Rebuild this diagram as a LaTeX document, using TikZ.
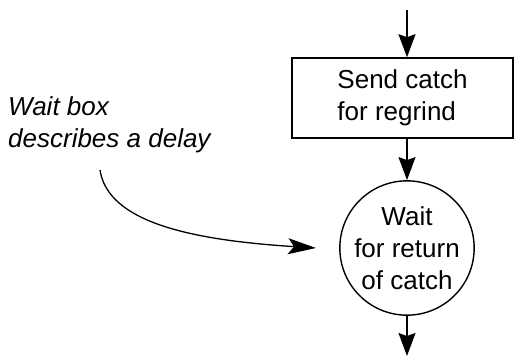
\documentclass[tikz,border=0pt]{standalone}
\usepackage{fontspec}
\setmainfont{Liberation Sans}
\usetikzlibrary{arrows.meta}
\begin{document}
\begin{tikzpicture}[x=1pt,y=-1pt,
  flow/.style={line width=1.6pt,-{Stealth[length=23pt,width=17pt,inset=3pt]}},
  txt/.style={font=\fontsize{26}{32}\selectfont},
  procbox/.style={draw,line width=1.6pt,rectangle,minimum width=221pt,minimum height=80pt,inner sep=0pt,txt,align=left},
  waitcirc/.style={draw,line width=1.4pt,circle,minimum size=130pt,inner sep=0pt,txt,align=center}]
  \useasboundingbox (0,0) rectangle (514,360);
  % process step and the delay that follows it
  \node[procbox] (send) at (402.5,98) {Send catch\\for regrind};
  \node[waitcirc] (wait) at (407,248) {Wait\\for return\\of catch};
  % side note with its pointer
  \node[txt,font=\fontsize{26}{32}\selectfont\itshape,align=left,anchor=north west,inner sep=0pt] (note) at (8,96) {Wait box\\describes a delay};
  \coordinate (noteout) at (100,170);
  \coordinate (tip) at (316,248);
  % flow connectors
  \coordinate (in) at (407,10);
  \coordinate (out) at (407,356);
  \draw[flow] (in) -- (wait.north |- send.north);
  \draw[flow] (wait.north |- send.south) -- (wait.north);
  \draw[flow] (wait.south) -- (out);
  \draw[line width=1.3pt,-{Stealth[length=28pt,width=16pt,inset=6pt]}] (noteout) .. controls (108,222) and (190,240) .. (tip);
\end{tikzpicture}
\end{document}
